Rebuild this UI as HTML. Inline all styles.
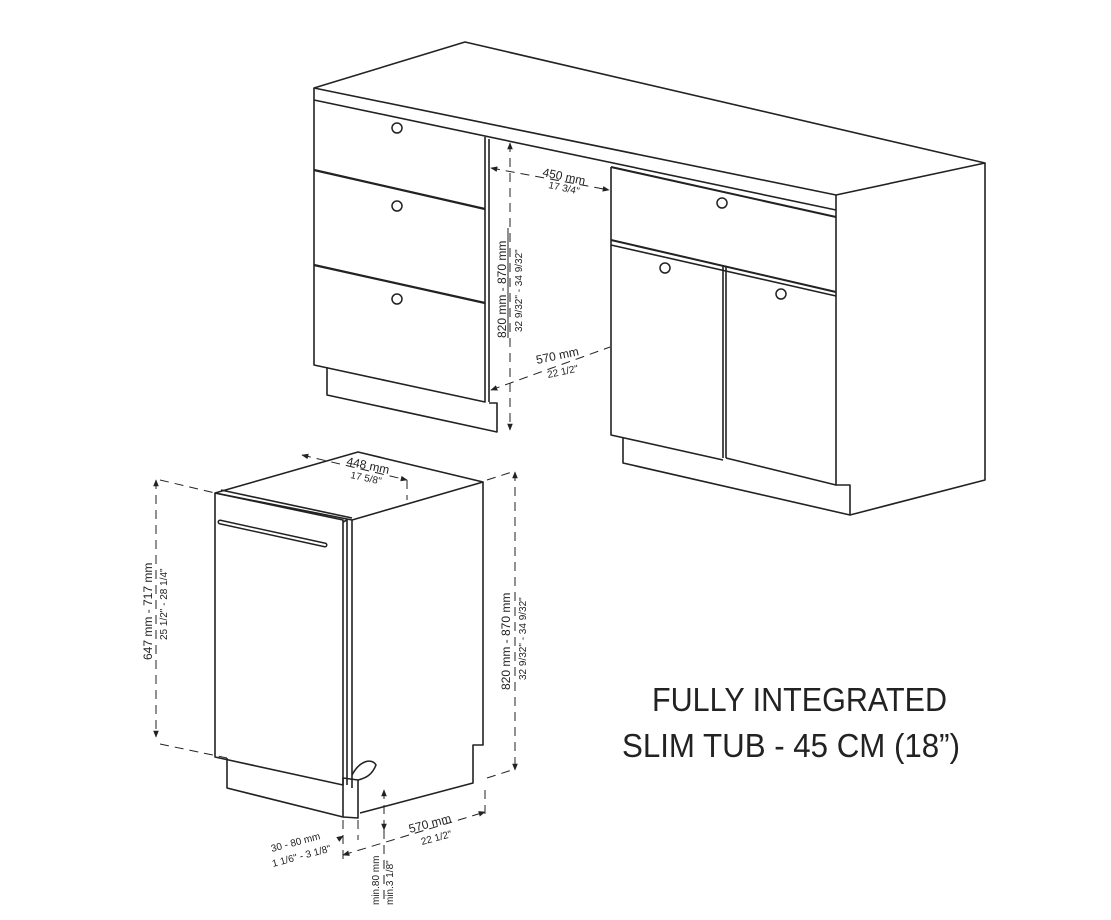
<!DOCTYPE html>
<html><head><meta charset="utf-8"><style>
html,body{margin:0;padding:0;background:#fff;}
svg{display:block;}
.l{fill:none;stroke:#222;stroke-width:1.6;stroke-linejoin:round;}
.t{fill:none;stroke:#222;stroke-width:1;}
.d{fill:none;stroke:#222;stroke-width:1;stroke-dasharray:9 6;}
.s{font-family:"Liberation Sans",sans-serif;font-size:12px;fill:#222;}
.f{font-family:"Liberation Sans",sans-serif;font-size:10px;fill:#222;}
.k{fill:#fff;stroke:#222;stroke-width:1.5;}
</style></head><body>
<svg width="1111" height="920" viewBox="0 0 1111 920" xmlns="http://www.w3.org/2000/svg">
<defs><marker id="a" viewBox="0 0 10 10" refX="9" refY="5" markerWidth="7" markerHeight="7" orient="auto-start-reverse"><path d="M0,1 L10,5 L0,9 z" fill="#222"/></marker></defs>

<!-- UPPER CABINET -->
<polygon class="l" points="314,88 465,42 985,163 836,195"/>
<polyline class="l" points="314,88 314,100 836,210 836,195"/>
<polyline class="l" points="836,210 836,485 850,485 850,515 985,480 985,163"/>
<!-- left drawer unit -->
<polyline class="l" points="314,100 314,365 485,402 485,137"/>
<line class="l" x1="314" y1="170" x2="485" y2="209" style="stroke-width:2.2"/>
<line class="l" x1="314" y1="265" x2="485" y2="303" style="stroke-width:2.2"/>
<line class="l" x1="489" y1="139" x2="489" y2="402"/>
<polyline class="l" points="327,367 327,395 497,432 497,403 489,403"/>
<circle class="k" cx="397" cy="128" r="5"/><circle class="k" cx="397" cy="206" r="5"/><circle class="k" cx="397" cy="299" r="5"/>
<!-- right unit -->
<polyline class="l" points="611,167 611,435 723,460"/>
<line class="l" x1="611" y1="240" x2="836" y2="292" style="stroke-width:2"/>
<line class="l" x1="611" y1="245" x2="836" y2="296"/>
<line class="l" x1="723" y1="265" x2="723" y2="458"/>
<line class="l" x1="726" y1="266" x2="726" y2="458"/>
<line class="l" x1="726" y1="458" x2="836" y2="485"/>
<polyline class="l" points="623,437 623,463 850,515"/>
<line class="l" x1="611" y1="167" x2="836" y2="217" style="stroke-width:2"/>
<circle class="k" cx="722" cy="203" r="5"/><circle class="k" cx="665" cy="268" r="5"/><circle class="k" cx="781" cy="294" r="5"/>
<!-- upper dims -->
<line class="d" x1="510" y1="143" x2="510" y2="430" marker-start="url(#a)" marker-end="url(#a)"/>
<line class="d" x1="491" y1="168" x2="609" y2="190" marker-start="url(#a)" marker-end="url(#a)"/>
<line class="d" x1="491" y1="390" x2="610" y2="347" marker-start="url(#a)"/>
<text class="s" transform="translate(542,176) rotate(12)">450 mm</text>
<text class="f" transform="translate(548,188) rotate(12)">17 3/4"</text>
<text class="s" transform="translate(506,338) rotate(-90)">820 mm - 870 mm</text>
<text class="f" transform="translate(522,332) rotate(-90)">32 9/32" - 34 9/32"</text>
<line class="t" x1="508" y1="338" x2="508" y2="228"/>
<text class="s" transform="translate(537,364) rotate(-12)">570 mm</text>
<text class="f" transform="translate(548,378) rotate(-12)">22 1/2"</text>

<!-- DISHWASHER -->
<polygon class="l" points="215,493 358,452 483,482 352,520"/>
<polyline class="l" points="215,493 215,757 343,785 343,520 215,493"/>
<line class="l" x1="221" y1="490" x2="352" y2="518"/>
<polyline class="l" points="352,520 352,788"/>
<polyline class="l" points="343,522 347,520 347,785"/>
<polyline class="l" points="483,482 483,745 473,745 473,783 360,813"/>
<polyline class="l" points="227,758 227,788 343,817 343,778 358,780 358,818 343,817"/>
<path class="l" d="M352,775 C360,760 372,758 376,765 C372,775 366,778 358,780"/>
<path class="l" d="M220,522 L325,545" style="stroke-width:5;stroke-linecap:round"/>
<path d="M220,522 L325,545" style="stroke:#fff;stroke-width:2;stroke-linecap:round"/>
<!-- dishwasher dims -->
<line class="d" x1="156" y1="480" x2="156" y2="737" marker-start="url(#a)" marker-end="url(#a)"/>
<line class="d" x1="160" y1="480" x2="215" y2="493"/>
<line class="d" x1="160" y1="744" x2="227" y2="758"/>
<text class="s" transform="translate(152,660) rotate(-90)">647 mm - 717 mm</text>
<text class="f" transform="translate(167,640) rotate(-90)">25 1/2" - 28 1/4"</text>
<line class="d" x1="515" y1="472" x2="515" y2="770" marker-start="url(#a)" marker-end="url(#a)"/>
<line class="d" x1="487" y1="480" x2="512" y2="472"/>
<line class="d" x1="487" y1="778" x2="512" y2="770"/>
<text class="s" transform="translate(510,690) rotate(-90)">820 mm - 870 mm</text>
<text class="f" transform="translate(526,680) rotate(-90)">32 9/32" - 34 9/32"</text>
<line class="d" x1="302" y1="455" x2="407" y2="480" marker-start="url(#a)" marker-end="url(#a)"/>
<line class="d" x1="407" y1="480" x2="407" y2="500"/>
<text class="s" transform="translate(346,465) rotate(12)">448 mm</text>
<text class="f" transform="translate(350,478) rotate(12)">17 5/8"</text>
<line class="d" x1="343" y1="855" x2="485" y2="812" marker-start="url(#a)" marker-end="url(#a)"/>
<line class="d" x1="485" y1="790" x2="485" y2="815"/>
<text class="s" transform="translate(410,833) rotate(-15)">570 mm</text>
<text class="f" transform="translate(422,845) rotate(-15)">22 1/2"</text>
<line class="d" x1="343" y1="820" x2="343" y2="860"/>
<line class="d" x1="358" y1="820" x2="358" y2="840"/>
<line class="d" x1="340" y1="838" x2="343" y2="836" marker-end="url(#a)"/>
<text class="f" transform="translate(272,852) rotate(-15)">30 - 80 mm</text>
<text class="f" transform="translate(273,867) rotate(-15)">1 1/6" - 3 1/8"</text>
<line class="d" x1="384" y1="790" x2="384" y2="830" marker-start="url(#a)" marker-end="url(#a)"/>
<line class="d" x1="384" y1="830" x2="384" y2="905"/>
<text class="f" transform="translate(379,905) rotate(-90)">min.80 mm</text>
<text class="f" transform="translate(393,905) rotate(-90)">min.3 1/8"</text>

<!-- title -->
<text x="652" y="711" textLength="295" lengthAdjust="spacingAndGlyphs" style="font-family:'Liberation Sans',sans-serif;font-size:33px;fill:#222">FULLY INTEGRATED</text>
<text x="622" y="757" textLength="338" lengthAdjust="spacingAndGlyphs" style="font-family:'Liberation Sans',sans-serif;font-size:33px;fill:#222">SLIM TUB - 45 CM (18”)</text>
</svg>
</body></html>
